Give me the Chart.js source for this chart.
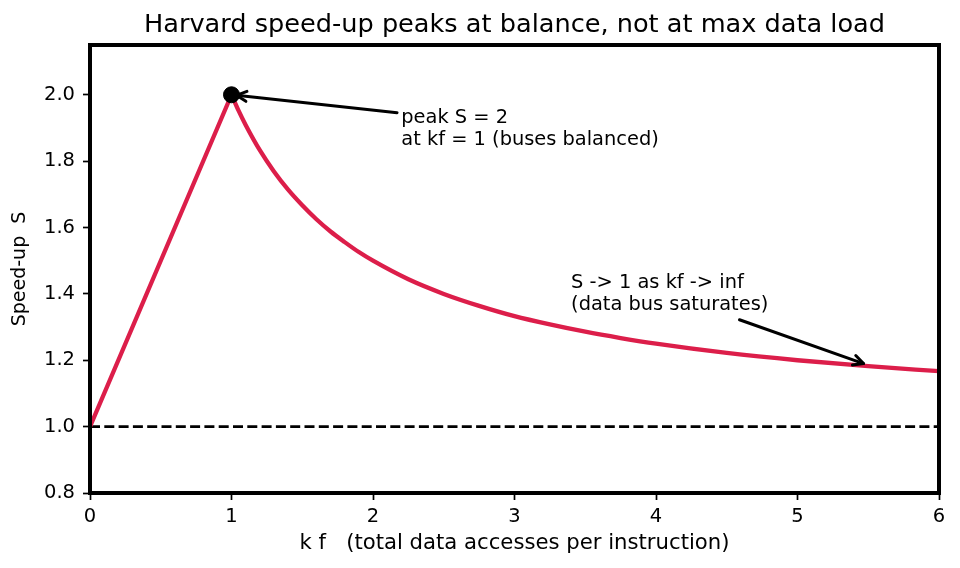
<!DOCTYPE html>
<html>
<head>
<meta charset="utf-8">
<script src="https://cdn.jsdelivr.net/npm/chart.js@4.4.1/dist/chart.umd.min.js"></script>
<style>
  html, body { margin: 0; padding: 0; background: #fff; }
  #wrap { width: 960px; height: 568px; }
</style>
</head>
<body>
<div id="wrap"><canvas id="speedChart" width="960" height="568"></canvas></div>
<script>
// values
var riseKf = [0, 1];
var riseS = [1.0, 2.0];
var decayKf = [1, 1.05, 1.1, 1.2, 1.3, 1.4, 1.5, 1.6, 1.7, 1.8, 1.9, 2.0, 2.25, 2.5, 2.75, 3.0, 3.25, 3.5, 3.75, 4.0, 4.5, 5.0, 5.5, 6.0];
var decayS = [2.0, 1.952, 1.909, 1.833, 1.769, 1.714, 1.667, 1.625, 1.588, 1.556, 1.526, 1.5, 1.444, 1.4, 1.364, 1.333, 1.308, 1.286, 1.267, 1.25, 1.222, 1.2, 1.182, 1.167];
var peakKf = [1];
var peakS = [2];
var baselineKf = [0, 6];
var baselineS = [1, 1];
var xTicks = [0, 1, 2, 3, 4, 5, 6];
var yTicks = [0.8, 1.0, 1.2, 1.4, 1.6, 1.8, 2.0];

var FONT = "'DejaVu Sans', sans-serif";
Chart.defaults.font.family = FONT;
Chart.defaults.color = '#000';

function toPoints(xs, ys) {
    return xs.map(function(x, i) { return { x: x, y: ys[i] }; });
}

// annotations in data coordinates
var notes = [
    { lines: ['peak S = 2', 'at kf = 1 (buses balanced)'], text: [2.2, 1.85], from: [2.17, 1.946], to: [1, 2] },
    { lines: ['S -> 1 as kf -> inf', '(data bus saturates)'], text: [3.4, 1.35], from: [4.59, 1.322], to: [5.5, 1.185] }
];

function drawArrow(ctx, x1, y1, x2, y2) {
    var ang = Math.atan2(y2 - y1, x2 - x1);
    var shrink = 5;
    var tx = x2 - shrink * Math.cos(ang), ty = y2 - shrink * Math.sin(ang);
    ctx.save();
    ctx.strokeStyle = '#000';
    ctx.lineWidth = 3;
    ctx.lineCap = 'round';
    ctx.lineJoin = 'round';
    ctx.beginPath();
    ctx.moveTo(x1, y1);
    ctx.lineTo(tx, ty);
    ctx.stroke();
    var hl = 10, hw = 5;
    ctx.beginPath();
    ctx.moveTo(tx - hl * Math.cos(ang) + hw * Math.sin(ang), ty - hl * Math.sin(ang) - hw * Math.cos(ang));
    ctx.lineTo(tx, ty);
    ctx.lineTo(tx - hl * Math.cos(ang) - hw * Math.sin(ang), ty - hl * Math.sin(ang) + hw * Math.cos(ang));
    ctx.stroke();
    ctx.restore();
}

var decor = {
    id: 'decor',
    afterDatasetsDraw: function(chart) {
        var ctx = chart.ctx, a = chart.chartArea;
        ctx.save();
        ctx.strokeStyle = '#000';
        ctx.lineWidth = 4;
        ctx.strokeRect(a.left, a.top, a.right - a.left, a.bottom - a.top);
        ctx.restore();
    },
    afterDraw: function(chart) {
        var ctx = chart.ctx, a = chart.chartArea;
        var xs = chart.scales.x, ys = chart.scales.y;
        ctx.save();
        ctx.fillStyle = '#000';
        ctx.font = '25.6px ' + FONT;
        ctx.textAlign = 'center';
        ctx.textBaseline = 'middle';
        ctx.fillText('Harvard speed-up peaks at balance, not at max data load', (a.left + a.right) / 2, 25);

        ctx.font = '19.4px ' + FONT;
        ctx.textAlign = 'left';
        ctx.textBaseline = 'alphabetic';
        notes.forEach(function(n) {
            var tx = xs.getPixelForValue(n.text[0]);
            var ty = ys.getPixelForValue(n.text[1]);
            for (var i = 0; i < n.lines.length; i++) {
                ctx.fillText(n.lines[i], tx, ty - (n.lines.length - 1 - i) * 22);
            }
            drawArrow(ctx,
                xs.getPixelForValue(n.from[0]), ys.getPixelForValue(n.from[1]),
                xs.getPixelForValue(n.to[0]), ys.getPixelForValue(n.to[1]));
        });
        ctx.restore();
    }
};

var curveStyle = {
    showLine: true,
    borderColor: '#dc1e4a',
    borderWidth: 4.3,
    borderJoinStyle: 'round',
    borderCapStyle: 'round',
    pointRadius: 0,
    order: 2
};

var ctx = document.getElementById('speedChart').getContext('2d');
new Chart(ctx, {
    type: 'scatter',
    data: {
        datasets: [
            {
                data: toPoints(baselineKf, baselineS),
                showLine: true,
                borderColor: '#000',
                borderWidth: 2.7,
                borderDash: [10, 4.3],
                pointRadius: 0,
                order: 3
            },
            Object.assign({ data: toPoints(riseKf, riseS), tension: 0 }, curveStyle),
            Object.assign({ data: toPoints(decayKf, decayS), cubicInterpolationMode: 'monotone' }, curveStyle),
            {
                data: toPoints(peakKf, peakS),
                backgroundColor: '#000',
                borderColor: '#000',
                pointRadius: 8,
                order: 1
            }
        ]
    },
    options: {
        responsive: false,
        animation: false,
        layout: { padding: { left: 0, right: 21, top: 45, bottom: 0 } },
        plugins: { legend: { display: false }, title: { display: false }, tooltip: { enabled: false } },
        scales: {
            x: {
                type: 'linear',
                min: 0,
                max: 6,
                afterFit: function(s) { s.height = 75; },
                afterBuildTicks: function(s) { s.ticks = xTicks.map(function(v) { return { value: v }; }); },
                border: { display: false },
                grid: { drawOnChartArea: false, drawTicks: true, tickLength: 7, tickWidth: 1.7, tickColor: '#000' },
                ticks: { font: { size: 19.5 }, color: '#000', padding: 5, maxRotation: 0 },
                title: {
                    display: true,
                    text: 'k f   (total data accesses per instruction)',
                    font: { size: 21.2 },
                    color: '#000',
                    padding: { top: 0, bottom: 12 }
                }
            },
            y: {
                type: 'linear',
                min: 0.8,
                max: 2.15,
                afterFit: function(s) { s.width = 90; },
                afterBuildTicks: function(s) { s.ticks = yTicks.map(function(v) { return { value: v }; }); },
                border: { display: false },
                grid: { drawOnChartArea: false, drawTicks: true, tickLength: 7, tickWidth: 1.7, tickColor: '#000' },
                ticks: {
                    font: { size: 19.5 },
                    color: '#000',
                    padding: 8,
                    callback: function(v) { return Number(v).toFixed(1); }
                },
                title: {
                    display: true,
                    text: 'Speed-up  S',
                    font: { size: 19 },
                    color: '#000',
                    padding: { top: 9, bottom: 0 }
                }
            }
        }
    },
    plugins: [decor]
});
</script>
</body>
</html>
